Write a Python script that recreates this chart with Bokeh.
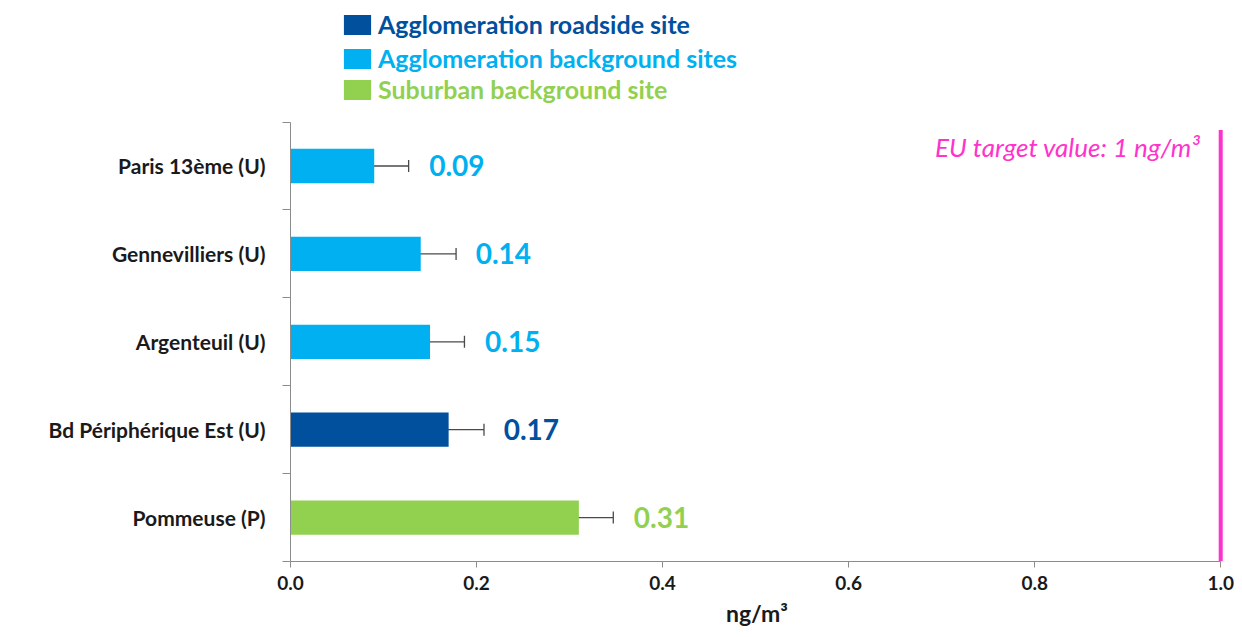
from bokeh.plotting import figure
from bokeh.models import (ColumnDataSource, Range1d, FixedTicker, Whisker, TeeHead,
                          Label, Legend, LegendItem, PrintfTickFormatter)
from bokeh.core.properties import value
from bokeh.embed import file_html
from bokeh.resources import INLINE

# ---------------- data ----------------
sites = ["Paris 13ème (U)", "Gennevilliers (U)", "Argenteuil (U)",
         "Bd Périphérique Est (U)", "Pommeuse (P)"]
concentrations = [0.09, 0.14, 0.15, 0.17, 0.31]
uncertainty = [0.037, 0.038, 0.037, 0.038, 0.037]
site_types = ["background", "background", "background", "roadside", "suburban"]
value_labels = ["0.09", "0.14", "0.15", "0.17", "0.31"]
type_order = ["roadside", "background", "suburban"]
type_names = ["Agglomeration roadside site", "Agglomeration background sites",
              "Suburban background site"]
type_colors = ["#00509E", "#00B0F0", "#92D050"]
x_ticks = [0.0, 0.2, 0.4, 0.6, 0.8, 1.0]
target_value = 1.0
target_text = "EU target value: 1 ng/m³"
x_title = "ng/m³"

FONT = "Lato"
PINK = "#FF33CC"
AXIS_GREY = "#8C8C8C"

n = len(sites)
ypos = [n - 1 - i for i in range(n)]
color_of = dict(zip(type_order, type_colors))
colors = [color_of[t] for t in site_types]

src = ColumnDataSource(dict(
    y=ypos, value=concentrations, color=colors, label=value_labels,
    lower=[v - e for v, e in zip(concentrations, uncertainty)],
    upper=[v + e for v, e in zip(concentrations, uncertainty)],
))

# the frame reaches the top of the canvas so that the legend (drawn inside
# the frame) is not clipped; the axis lines are bounded to the data area
HEADROOM = 1.383   # band units above the bars, room for the legend
X_PAD = 0.003      # a little room right of 1.0 so the target line is not clipped
p = figure(width=1234, height=629, output_backend="svg", toolbar_location=None,
           x_range=Range1d(0, target_value + X_PAD),
           y_range=Range1d(-0.5, n - 0.5 + HEADROOM),
           min_border_left=290, min_border_right=11, min_border_top=0,
           min_border_bottom=66)
p.outline_line_color = None
p.xgrid.grid_line_color = None
p.ygrid.grid_line_color = None

bars = p.hbar(y="y", left=0, right="value", height=0.39, fill_color="color",
              line_color=None, source=src)

whisk = Whisker(base="y", lower="lower", upper="upper", dimension="width", source=src,
                line_color="#4a4a4a", line_width=1.3,
                lower_head=TeeHead(size=12, line_color="#4a4a4a", line_width=1.3),
                upper_head=TeeHead(size=12, line_color="#4a4a4a", line_width=1.3))
p.add_layout(whisk)

p.text(x="value", y="y", text="label", x_offset=55, text_color="color",
       text_font=value(FONT), text_font_style="bold", text_font_size="28px",
       text_baseline="middle", text_align="left", source=src)

# EU target line
p.segment(x0=[target_value], x1=[target_value], y0=[-0.5], y1=[n - 0.5 - 0.09],
          line_color=PINK, line_width=4)
p.add_layout(Label(x=target_value, y=n - 0.5, x_offset=-20, y_offset=-25,
                   text=target_text, text_color=PINK, text_font=FONT,
                   text_font_style="italic", text_font_size="26px",
                   text_align="right", text_baseline="middle"))

# axes
xa = p.xaxis[0]
xa.bounds = (0, target_value)
xa.ticker = FixedTicker(ticks=x_ticks)
xa.formatter = PrintfTickFormatter(format="%.1f")
xa.axis_line_color = AXIS_GREY
xa.major_tick_line_color = AXIS_GREY
xa.major_tick_out = 6
xa.major_tick_in = 0
xa.minor_tick_line_color = None
xa.major_label_text_font = FONT
xa.major_label_text_font_style = "bold"
xa.major_label_text_font_size = "19px"
xa.major_label_text_color = "#1a1a1a"
xa.major_label_standoff = 8
xa.axis_label = x_title
xa.axis_label_text_font = FONT
xa.axis_label_text_font_style = "bold"
xa.axis_label_text_font_size = "23px"
xa.axis_label_text_color = "#1a1a1a"
xa.axis_label_standoff = 6

ya = p.yaxis[0]
ya.bounds = (-0.5, n - 0.5)
ya.ticker = FixedTicker(ticks=ypos, minor_ticks=[y - 0.5 for y in range(n + 1)])
ya.major_label_overrides = {y: s for y, s in zip(ypos, sites)}
ya.axis_line_color = AXIS_GREY
ya.major_tick_line_color = None
ya.major_tick_out = 0
ya.major_tick_in = 0
ya.minor_tick_line_color = AXIS_GREY
ya.minor_tick_out = 8
ya.minor_tick_in = 0
ya.major_label_text_font = FONT
ya.major_label_text_font_style = "bold"
ya.major_label_text_font_size = "21px"
ya.major_label_text_color = "#1a1a1a"
ya.major_label_standoff = 17

# legend: one legend per type so each label can carry its own colour
leg_y = [522, 488, 457]  # screen px from the frame bottom
for t, name, col, ly in zip(type_order, type_names, type_colors, leg_y):
    idx = site_types.index(t)
    lg = Legend(items=[LegendItem(label=name, renderers=[bars], index=idx)],
                location=(50, ly), glyph_width=34, glyph_height=25,
                label_text_color=col, label_text_font=FONT,
                label_text_font_style="bold", label_text_font_size="25px",
                label_standoff=4, border_line_color=None, background_fill_alpha=0,
                padding=0, margin=0, spacing=0)
    p.add_layout(lg, "center")

open("out.html", "w").write(file_html(p, INLINE))
